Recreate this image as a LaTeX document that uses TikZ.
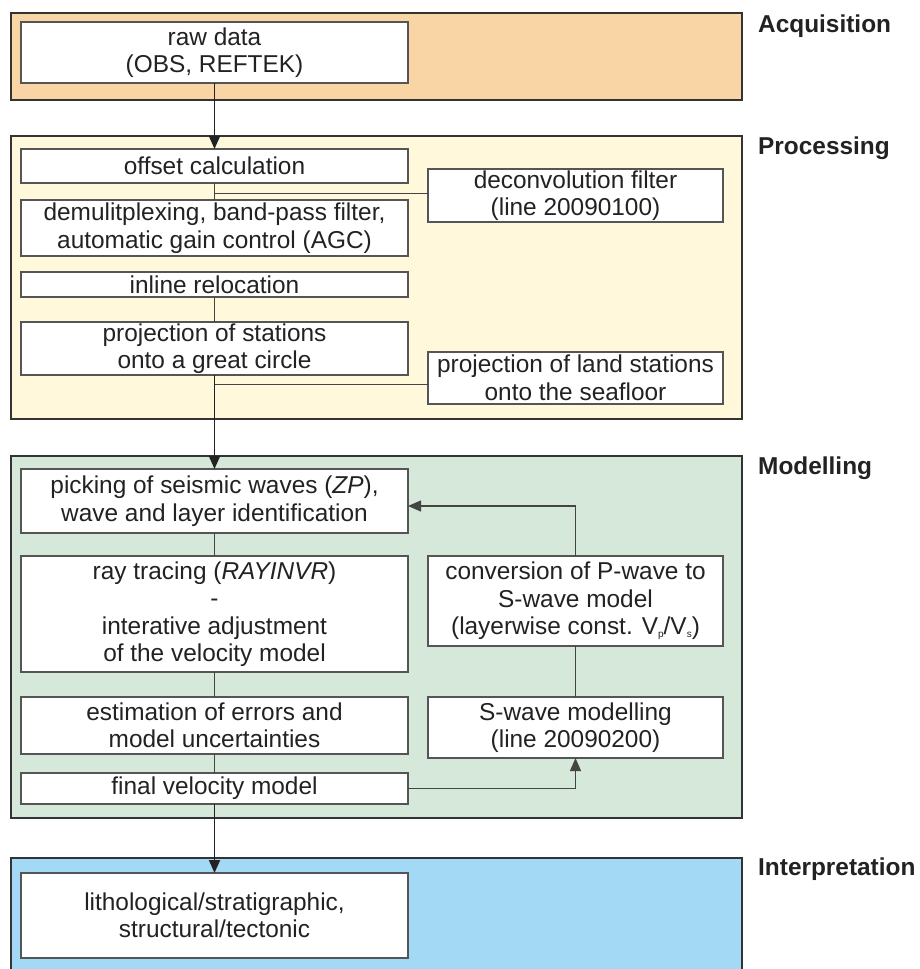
\documentclass[tikz,border=0pt]{standalone}
\usepackage{fontspec}
\setmainfont{Liberation Sans}
\usepackage{tikz}
\usetikzlibrary{arrows.meta, positioning}

\definecolor{acqfill}{HTML}{F9D4A4}
\definecolor{procfill}{HTML}{FFF8DB}
\definecolor{modfill}{HTML}{D5E8D9}
\definecolor{intfill}{HTML}{A4D9F5}
\definecolor{txt}{HTML}{222222}
\definecolor{boxgray}{HTML}{555555}
\definecolor{panelgray}{HTML}{333333}
\definecolor{linegray}{HTML}{444444}

\newcommand{\boxfont}{\fontsize{24.4}{27.5}\selectfont}
\newcommand{\lowidx}[1]{\raisebox{-3pt}{\fontsize{10}{10}\selectfont #1}}

\begin{document}
\begin{tikzpicture}[
    x=1pt, y=-1pt,
    node distance=17pt,
    box/.style={rectangle, draw=boxgray, line width=1.2pt, fill=white, minimum width=387pt, inner sep=0pt, outer sep=0pt, align=center, font=\boxfont, text=txt},
    sidebox/.style={box, minimum width=295pt},
    panel/.style={draw=panelgray, line width=1.2pt},
    phase/.style={anchor=base west, inner sep=0pt, font=\boxfont\bfseries, text=txt},
    arrow/.style={-{Triangle[length=13pt, width=11pt]}, line width=1.8pt, draw=txt},
    link/.style={line width=1pt, draw=linegray},
    back/.style={link, line width=1.2pt, -{Triangle[length=13pt, width=11pt]}}
]
    \useasboundingbox (0,0) rectangle (919,969);

    \draw[panel, fill=acqfill] (11,13) rectangle (742,100);
    \draw[panel, fill=procfill] (11,136) rectangle (742,419);
    \draw[panel, fill=modfill] (11,456) rectangle (742,818);
    \draw[panel, fill=intfill] (11,858) rectangle (742,990);

    \node[phase] (acq) at (758,32) {Acquisition};
    \node[phase] (proc) at (758,154) {Processing};
    \node[phase] (model) at (758,474) {Modelling};
    \node[phase] (interp) at (758,875) {Interpretation};

    \node[box, minimum height=61pt] (raw) at (214.5,52.5) {raw data\\(OBS, REFTEK)};
    \node[box, minimum height=34pt, below=66pt of raw] (offset) {offset calculation};
    \node[box, minimum height=56pt, below=of offset] (demux) {demulitplexing, band-pass filter,\\automatic gain control (AGC)};
    \node[box, minimum height=25pt, below=16pt of demux] (reloc) {inline relocation};
    \node[box, minimum height=53pt, below=25pt of reloc] (proj) {projection of stations\\onto a great circle};
    \node[sidebox, minimum height=53pt] (deconv) at (575.5,195.5) {deconvolution filter\\(line 20090100)};
    \node[sidebox, minimum height=52pt] (land) at (575.5,378) {projection of land stations\\onto the seafloor};

    \node[box, minimum height=64pt, below=94pt of proj] (pick) {picking of seismic waves (\textit{ZP}),\\wave and layer identification};
    \node[box, minimum height=116pt, below=23pt of pick] (ray) {ray tracing (\textit{RAYINVR})\\-\\interative adjustment\\of the velocity model};
    \node[box, minimum height=57pt, below=25pt of ray] (estim) {estimation of errors and\\model uncertainties};
    \node[box, minimum height=31pt, below=19pt of estim] (final) {final velocity model};
    \node[sidebox, minimum height=90pt] (conv) at (575.5,601) {conversion of P-wave to\\S-wave model\\(layerwise const. V\lowidx{p}/V\lowidx{s})};
    \node[sidebox, minimum height=61pt] (swave) at (575.5,727.5) {S-wave modelling\\(line 20090200)};

    \node[box, minimum height=85pt, below=69pt of final] (litho) {lithological/stratigraphic,\\structural/tectonic};

    \coordinate[below=10pt of offset.south] (split1);
    \coordinate[below=9pt of proj.south] (split2);

    \draw[arrow] (raw) -- (offset);
    \draw[link] (offset) -- (demux);
    \draw[link] (split1) -- (split1 -| deconv.west);
    \draw[link] (reloc) -- (proj);
    \draw[arrow] (proj) -- (pick);
    \draw[link] (split2) -- (split2 -| land.west);
    \draw[link] (pick) -- (ray);
    \draw[link] (ray) -- (estim);
    \draw[link] (estim) -- (final);
    \draw[back] (final.east) -| (swave.south);
    \draw[link] (swave) -- (conv);
    \draw[back] (conv.north) |- ([yshift=-5pt]pick.east);
    \draw[arrow] (final) -- (litho);
\end{tikzpicture}
\end{document}
